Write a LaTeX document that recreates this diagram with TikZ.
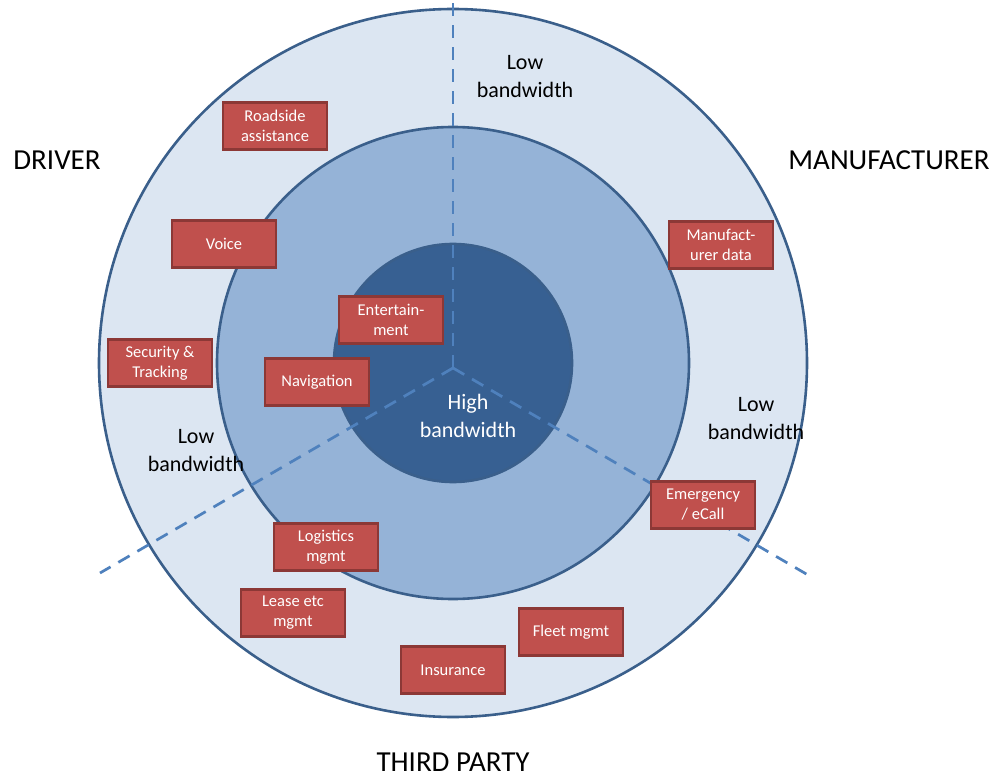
\documentclass[tikz,border=0pt]{standalone}
\usepackage{fontspec}
\setmainfont{Carlito}
\definecolor{outerfill}{HTML}{DCE6F2}
\definecolor{midfill}{HTML}{95B3D7}
\definecolor{innerfill}{HTML}{376092}
\definecolor{ringline}{HTML}{3A5F8B}
\definecolor{dashline}{HTML}{4F81BD}
\definecolor{boxfill}{HTML}{C0504D}
\definecolor{boxline}{HTML}{8C3836}
\tikzset{
  ring/.style={draw=ringline, line width=2.6pt},
  divider/.style={draw=dashline, line width=2.7pt, dash pattern=on 13pt off 9pt},
  redbox/.style={draw=boxline, fill=boxfill, line width=2.6pt, minimum width=104pt, minimum height=47pt,
    align=center, text=white, inner sep=2pt, font=\fontsize{16.5}{20}\selectfont},
  bwlabel/.style={align=center, font=\fontsize{22}{28}\selectfont},
  party/.style={font=\fontsize{29}{34}\selectfont, inner sep=0pt, anchor=base}
}
\begin{document}
\begin{tikzpicture}[x=1pt,y=-1pt]
\useasboundingbox (0,0) rectangle (996,778);
\fill[white] (0,0) rectangle (996,778);
% rings
\coordinate (ctr) at (453,363);
\filldraw[ring, fill=outerfill] (ctr) circle[radius=354pt];
\filldraw[ring, fill=midfill] (ctr) circle[radius=236pt];
\filldraw[ring, fill=innerfill] (ctr) circle[radius=119pt];
% dividers
\coordinate (hub) at (453,368);
\coordinate (topend) at (453,0);
\coordinate (leftend) at (100,573);
\coordinate (rightend) at (808,575);
\draw[divider] (hub) -- (topend);
\draw[divider] (hub) -- (leftend);
\draw[divider] (hub) -- (rightend);
% boxes
\node[redbox] (road) at (275,126) {Roadside\\assistance};
\node[redbox] (voice) at (224,244) {Voice};
\node[redbox] (ent) at (391,320) {Entertain-\\ment};
\node[redbox] (sec) at (160,363) {Security \&\\Tracking};
\node[redbox] (nav) at (317,382) {Navigation};
\node[redbox] (manu) at (721,245) {Manufact-\\urer data};
\node[redbox] (emerg) at (703,505) {Emergency\\/ eCall};
\node[redbox] (logi) at (326,547) {Logistics\\mgmt};
\node[redbox] (lease) at (293,613) {Lease etc\\mgmt};
\node[redbox] (fleet) at (571,632) {Fleet mgmt};
\node[redbox] (ins) at (453,670) {Insurance};
% labels
\node[bwlabel] (lowtop) at (525,77) {Low\\bandwidth};
\node[bwlabel] (lowleft) at (196,451) {Low\\bandwidth};
\node[bwlabel] (lowright) at (756,419) {Low\\bandwidth};
\node[bwlabel, text=white] (high) at (468,416) {High\\bandwidth};
\node[party] (driver) at (57,170) {DRIVER};
\node[party] (manufacturer) at (889,170) {MANUFACTURER};
\node[party] (third) at (453,771) {THIRD PARTY};
\end{tikzpicture}
\end{document}
